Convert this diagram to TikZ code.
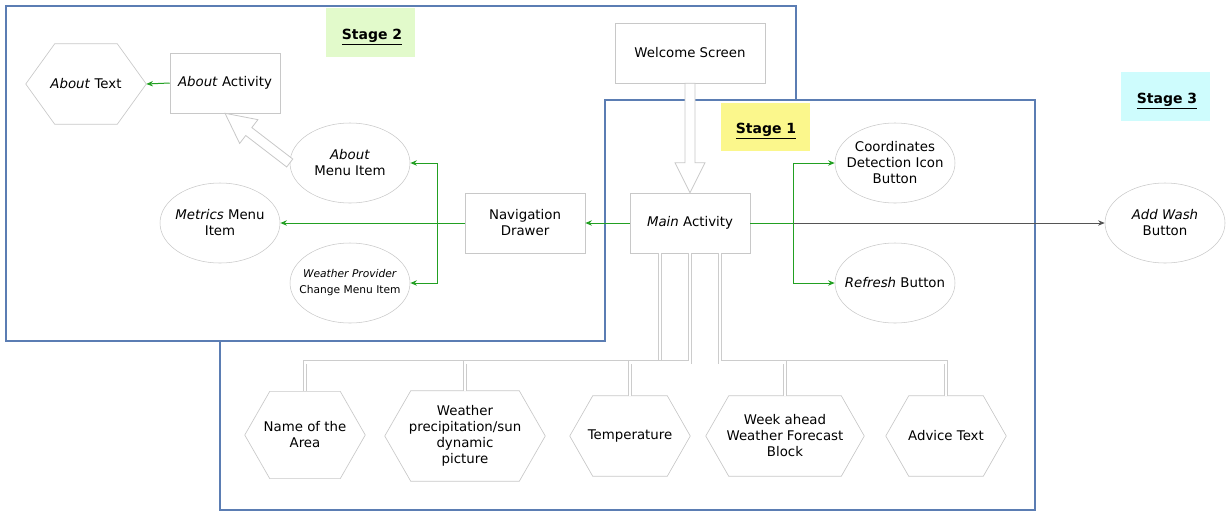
\documentclass[tikz,border=0pt]{standalone}
\usepackage{fontspec}
\setmainfont{DejaVu Sans}
\usetikzlibrary{shapes.geometric,calc,arrows.meta}
\definecolor{framecol}{HTML}{5B7DB3}
\definecolor{arrowgreen}{HTML}{22A022}
\definecolor{arrowdark}{HTML}{555555}
\definecolor{nodeline}{HTML}{C8C8C8}
\definecolor{stagegreen}{HTML}{E2FACB}
\definecolor{stageyellow}{HTML}{FBF78C}
\definecolor{stagecyan}{HTML}{CEFCFD}
\newcommand{\hexframe}[2]{%
  \draw[hexline] (#1.west) -- ($(#1.north west)+(#2,0)$) -- ($(#1.north east)+(-#2,0)$)
    -- (#1.east) -- ($(#1.south east)+(-#2,0)$) -- ($(#1.south west)+(#2,0)$) -- cycle;}
\newcommand{\blockarr}[2]{%
  \coordinate (hb) at ($(#2)!22.5pt!(#1)$);
  \draw[blockarrow] ($(#1)!3.75pt!90:(#2)$) -- ($(hb)!3.75pt!90:(#2)$) -- ($(hb)!11.25pt!90:(#2)$)
    -- (#2) -- ($(hb)!11.25pt!-90:(#2)$) -- ($(hb)!3.75pt!-90:(#2)$) -- ($(#1)!3.75pt!-90:(#2)$) -- cycle;}
\begin{document}
\begin{tikzpicture}[x=0.75pt,y=-0.75pt,
  font=\fontsize{10}{12}\selectfont,
  box/.style={draw=nodeline, fill=white, minimum width=90pt, minimum height=45pt, inner sep=1pt, align=center},
  oval/.style={ellipse, draw=nodeline, fill=white, minimum width=90pt, minimum height=60pt, inner sep=-20pt, align=center},
  hexa/.style={rectangle, minimum width=90pt, minimum height=60pt, inner sep=0pt, align=center},
  hexline/.style={draw=nodeline, line width=0.5pt},
  garrow/.style={draw=arrowgreen, line width=0.75pt, -{Stealth[length=5pt,width=4pt]}},
  darrow/.style={draw=arrowdark, line width=0.6pt, -{Stealth[length=5pt,width=4pt]}},
  dbl/.style={draw=gray!40, double=white, double distance=2.2pt, line width=0.5pt},
  blockarrow/.style={draw=nodeline, fill=white, line width=0.6pt, line join=miter},
  stagebox/.style={minimum width=66.75pt, minimum height=36.5pt, inner sep=0pt},
  stagetext/.style={font=\fontsize{10.5}{12}\selectfont\bfseries},
  frame/.style={draw=framecol, line width=1.5pt, line join=miter}]
\useasboundingbox (0,0) rectangle (1226,518);

% stage labels
\node[stagebox, fill=stagegreen] (s2) at (370.5,32.5) {};
\node[stagetext] (s2t) at (372,37) {\underline{Stage 2}};
\node[stagebox, fill=stageyellow] (s1) at (765.5,127) {};
\node[stagetext] (s1t) at (766,131) {\underline{Stage 1}};
\node[stagebox, fill=stagecyan] (s3) at (1165.5,96.5) {};
\node[stagetext] (s3t) at (1167,101) {\underline{Stage 3}};

% frames
\draw[frame] (6,6) -- (796,6) -- (796,100) -- (605,100) -- (605,341) -- (6,341) -- cycle;
\draw[frame] (605,100) -- (1035,100) -- (1035,510) -- (220,510) -- (220,341);

% nodes
\node[box, minimum width=112.5pt] (welcome) at (690,53) {Welcome Screen};
\node[box] (main) at (690,223) {\textit{Main} Activity};
\node[box] (nav) at (525,223) {Navigation\\Drawer};
\node[box, minimum width=82.5pt] (aboutact) at (225,83) {\textit{About} Activity};
\node[hexa] (abouttext) at (86,84) {\textit{About} Text};
\hexframe{abouttext}{29}
\node[oval] (aboutmenu) at (350,163) {\textit{About}\\Menu Item};
\node[oval] (metrics) at (220,223) {\textit{Metrics} Menu\\Item};
\node[oval, font=\fontsize{8}{12}\selectfont] (weatherprov) at (350,283) {\textit{Weather Provider}\\Change Menu Item};
\node[oval] (coord) at (895,163) {Coordinates\\Detection Icon\\Button};
\node[oval] (refresh) at (895,283) {\textit{Refresh} Button};
\node[oval] (addwash) at (1165,223) {\textit{Add Wash}\\Button};

\node[hexa, minimum width=90pt, minimum height=65pt] (area) at (305,435) {Name of the\\Area};
\hexframe{area}{25}
\node[hexa, minimum width=120pt, minimum height=67.5pt] (weather) at (465,436) {Weather\\precipitation/sun\\dynamic\\picture};
\hexframe{weather}{26}
\node[hexa] (temp) at (630,436) {Temperature};
\hexframe{temp}{23}
\node[hexa, minimum width=118.5pt] (week) at (785,436) {Week ahead\\Weather Forecast\\Block};
\hexframe{week}{23}
\node[hexa] (advice) at (946,436) {Advice Text};
\hexframe{advice}{23}

% double connectors
\draw[dbl] ($(main.south)+(-30,0)$) -- ++(0,109) -| (area.north);
\draw[dbl] ($(main.south)+(-30,0)$) -- ++(0,109) -| (weather.north);
\draw[dbl] ($(main.south)+(0,0)$) -- ++(0,109) -| (temp.north);
\draw[dbl] ($(main.south)+(30,0)$) -- ++(0,109) -| (advice.north);
\draw[dbl] ($(main.south)+(30,0)$) -- ++(0,109) -| (week.north);

% block arrows
\blockarr{welcome.south}{main.north}
\blockarr{aboutmenu.west}{aboutact.south}

% arrows
\draw[darrow] (main.east) -- (addwash.west);
\draw[garrow] (aboutact.west) -- (abouttext.east);
\draw[garrow] (main.west) -- (nav.east);
\draw[garrow] (nav.west) -- (metrics.east);
\draw[garrow] (nav.west) -- ++(-27,0) |- (aboutmenu.east);
\draw[garrow] (nav.west) -- ++(-27,0) |- (weatherprov.east);
\draw[garrow] (main.east) -- ++(43,0) |- (coord.west);
\draw[garrow] (main.east) -- ++(43,0) |- (refresh.west);
\end{tikzpicture}
\end{document}
